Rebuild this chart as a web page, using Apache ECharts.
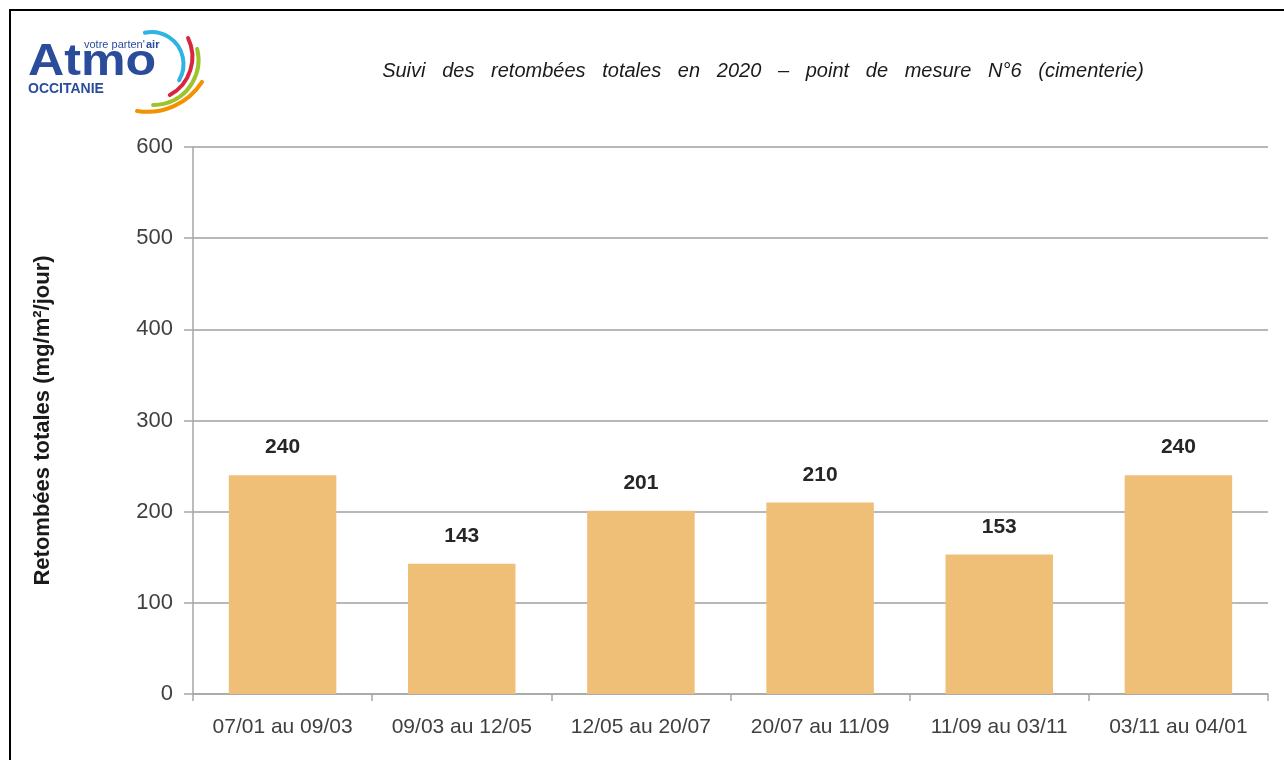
<!DOCTYPE html>
<html>
<head>
<meta charset="utf-8">
<script src="https://cdn.jsdelivr.net/npm/echarts@6/dist/echarts.min.js"></script>
<style>
  html, body { margin: 0; padding: 0; background: #fff; }
  #chart { width: 1284px; height: 760px; }
</style>
</head>
<body>
<div id="chart"></div>
<script>
var periods = ['07/01 au 09/03', '09/03 au 12/05', '12/05 au 20/07', '20/07 au 11/09', '11/09 au 03/11', '03/11 au 04/01']
var retombees = [240, 143, 201, 210, 153, 240]
var titleText = 'Suivi   des   retombées   totales   en   2020   –   point   de   mesure   N°6   (cimenterie)'

var mychart = echarts.init(document.getElementById('chart'))

// logo arcs (cx, cy, r, start, end, colour)
var arcs = [
  [151.5, 64, 32, -1.78, 0.53, '#2fb3e3'],
  [149, 57, 43.4, -0.45, 1.07, '#d7263d'],
  [153.5, 60, 45, -0.25, 1.58, '#9cc42a'],
  [147.3, 46.8, 65, 0.57, 1.73, '#f39200']
]
var logo = arcs.map(function (a) {
  return {
    type: 'arc',
    shape: { cx: a[0], cy: a[1], r: a[2], startAngle: a[3], endAngle: a[4] },
    style: { stroke: a[5], lineWidth: 4, fill: null, lineCap: 'round' }
  }
})
logo.push(
  { type: 'text', x: 28, y: 41, scaleX: 1.14, style: { text: 'Atmo', font: 'bold 44px "Liberation Sans", Arial', fill: '#2b4c9b' } },
  { type: 'text', x: 28, y: 82, style: { text: 'OCCITANIE', font: 'bold 14px "Liberation Sans", Arial', fill: '#2b4c9b' } },
  { type: 'text', x: 84, y: 39, style: { text: "votre parten'", font: '11px "Liberation Sans", Arial', fill: '#2b4c9b' } },
  { type: 'text', x: 146, y: 39, style: { text: 'air', font: 'bold 11px "Liberation Sans", Arial', fill: '#2b4c9b' } },
  // frame
  { type: 'rect', shape: { x: 10, y: 10, width: 1400, height: 900 }, style: { fill: null, stroke: '#000', lineWidth: 2 } }
)

var options = {
  animation: false,
  title: {
    text: titleText,
    left: 758,
    textAlign: 'center',
    top: 56,
    textStyle: { fontFamily: '"Liberation Sans", Arial', fontStyle: 'italic', fontWeight: 'normal', fontSize: 20, color: '#1a1a1a' }
  },
  graphic: logo,
  grid: { left: 193, right: 16, top: 147, bottom: 66 },
  xAxis: {
    type: 'category',
    data: periods,
    axisLine: { lineStyle: { color: '#a6a6a6', width: 1.5 } },
    axisTick: { show: true, length: 7, lineStyle: { color: '#a6a6a6', width: 1.5 } },
    axisLabel: { interval: 0, color: '#404040', fontSize: 21, fontFamily: '"Liberation Sans", Arial', margin: 23 }
  },
  yAxis: {
    type: 'value',
    min: 0,
    max: 600,
    interval: 100,
    name: 'Retombées totales (mg/m²/jour)',
    nameLocation: 'middle',
    nameRotate: 90,
    nameGap: 139,
    nameTextStyle: { fontFamily: '"Liberation Sans", Arial', fontWeight: 'bold', fontSize: 22, color: '#1a1a1a' },
    axisLine: { show: true, lineStyle: { color: '#a6a6a6', width: 1.5 } },
    axisTick: { show: true, length: 9, lineStyle: { color: '#a6a6a6', width: 1.5 } },
    axisLabel: { color: '#404040', fontSize: 22, fontFamily: '"Liberation Sans", Arial', margin: 20 },
    splitLine: { lineStyle: { color: '#a0a0a0', width: 1.5 } }
  },
  series: [{
    type: 'bar',
    data: retombees,
    barWidth: '60%',
    itemStyle: { color: '#efbf77' },
    label: {
      show: true,
      position: 'top',
      distance: 17,
      fontFamily: '"Liberation Sans", Arial',
      fontWeight: 'bold',
      fontSize: 21,
      color: '#262626'
    }
  }]
}
mychart.setOption(options)
</script>
</body>
</html>
